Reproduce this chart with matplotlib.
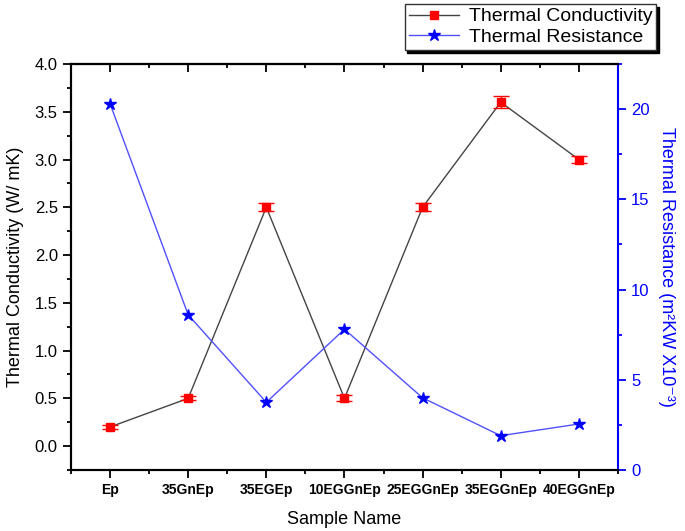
import numpy as np
import matplotlib
matplotlib.use('Agg')
import matplotlib.pyplot as plt
from matplotlib.ticker import MultipleLocator

plt.rcParams['font.family'] = ['Liberation Sans', 'DejaVu Sans']

# data
samples = ['Ep', '35GnEp', '35EGEp', '10EGGnEp', '25EGGnEp', '35EGGnEp', '40EGGnEp']
conductivity = [0.2, 0.5, 2.5, 0.5, 2.5, 3.6, 3.0]
conductivity_err = [0.02, 0.02, 0.04, 0.03, 0.04, 0.06, 0.04]
resistance = [20.3, 8.6, 3.75, 7.8, 4.0, 1.9, 2.55]

fig = plt.figure(figsize=(6.85, 5.31), dpi=100)
ax = fig.add_axes([0.1036, 0.1149, 0.7985, 0.7646])
ax2 = ax.twinx()

x = np.arange(len(samples))

# conductivity with error bars
ax.plot(x, conductivity, color='#444444', lw=1.0, zorder=2)
ax.errorbar(x, conductivity, yerr=conductivity_err, fmt='none', ecolor='red',
            elinewidth=1.0, capsize=6, capthick=1.0, zorder=3)
ax.plot(x, conductivity, ls='none', marker='s', ms=6, color='red', zorder=4)

# resistance on twin axis
ax2.plot(x, resistance, color='#5050ff', lw=1.0, marker='*', ms=9,
         mfc='blue', mec='blue')

ax.set_xlim(-0.5, 6.5)
ax.set_ylim(-0.25, 4.0)
ax2.set_ylim(0, 22.5)

ax.set_xticks(x)
ax.set_xticklabels(samples, fontsize=10, fontweight='bold')
ax.xaxis.set_minor_locator(MultipleLocator(0.5))
ax.yaxis.set_minor_locator(MultipleLocator(0.25))
ax.set_yticks(np.arange(0, 4.01, 0.5))
ax.set_yticklabels([f'{v:.1f}' for v in np.arange(0, 4.01, 0.5)], fontsize=12)

ax2.yaxis.set_major_locator(MultipleLocator(5))
ax2.yaxis.set_minor_locator(MultipleLocator(2.5))
ax2.tick_params(axis='y', which='both', colors='blue', labelsize=12)
ax2.tick_params(axis='y', which='major', length=6, width=1.3)
ax2.tick_params(axis='y', which='minor', length=3, width=1.3)

ax.tick_params(axis='both', which='major', length=6, width=1.3, direction='out')
ax.tick_params(axis='both', which='minor', length=3, width=1.3, direction='out')

# inward ticks along the top edge
top = ax.secondary_xaxis('top')
top.set_xticks(x)
top.xaxis.set_minor_locator(MultipleLocator(0.5))
top.tick_params(which='major', direction='in', length=6, width=1.3, labeltop=False)
top.tick_params(which='minor', direction='in', length=3, width=1.3)
top.spines['top'].set_linewidth(1.5)

for s in ['left', 'bottom', 'top']:
    ax.spines[s].set_linewidth(1.5)
    ax2.spines[s].set_linewidth(1.5)
ax2.spines['right'].set_color('blue')
ax2.spines['right'].set_linewidth(1.5)
ax.spines['right'].set_visible(False)

ax.set_xlabel('Sample Name', fontsize=13, labelpad=10)
ax.set_ylabel('Thermal Conductivity (W/ mK)', fontsize=13, labelpad=8)
ax2.set_ylabel('Thermal Resistance (m²KW X10⁻³)', fontsize=13,
               color='blue', rotation=270, labelpad=18)

# legend
h1, = ax.plot([], [], color='#444444', lw=1.0, marker='s', ms=6, mfc='red', mec='red')
h2, = ax.plot([], [], color='#5050ff', lw=1.0, marker='*', ms=9, mfc='blue', mec='blue')
leg = fig.legend([h1, h2], ['Thermal Conductivity', 'Thermal Resistance'],
                 loc='upper left', bbox_to_anchor=(0.585, 1.0),
                 fontsize=14, frameon=True, fancybox=False, handlelength=2.6,
                 borderpad=0.2, labelspacing=0.15, handletextpad=0.5,
                 borderaxespad=0.2,
                 shadow={'color': 'black', 'alpha': 1.0})
leg.get_frame().set_edgecolor('#333333')
leg.get_frame().set_linewidth(1.0)

fig.savefig('out.png', dpi=100)
